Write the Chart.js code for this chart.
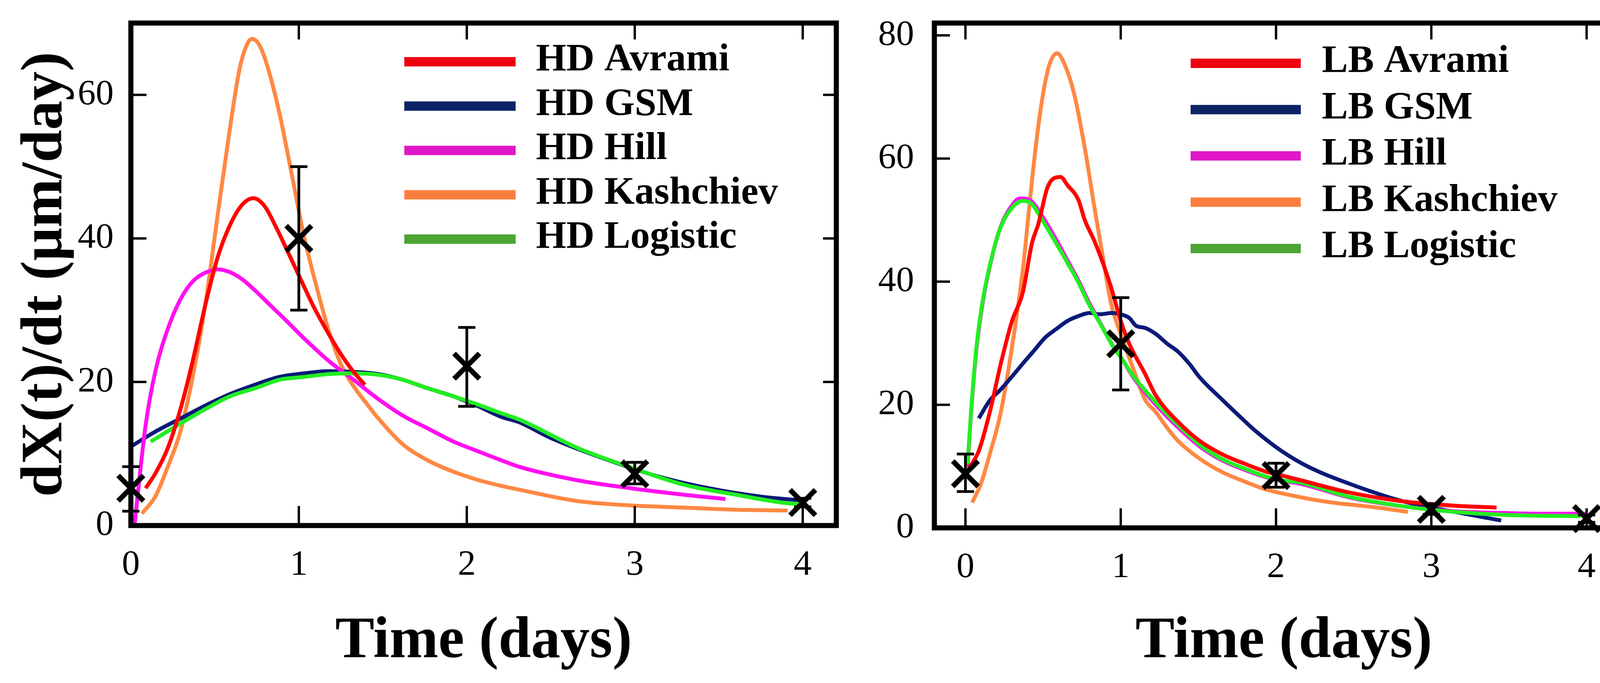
<!DOCTYPE html>
<html>
<head>
<meta charset="utf-8">
<script src="https://cdn.jsdelivr.net/npm/chart.js@4.4.1/dist/chart.umd.min.js"></script>
<style>
  body { margin: 0; background: #fff; width: 4240px; height: 1748px; overflow: hidden; position: relative; }
  canvas { position: absolute; top: 0; }
  #hd-chart { left: 0; }
  #lb-chart { left: 2200px; }
</style>
</head>
<body>
<canvas id="hd-chart" width="2200" height="1748"></canvas>
<canvas id="lb-chart" width="2040" height="1748"></canvas>
<script>
// ---- HD panel (left) ----
const hdLabels = ['HD Avrami', 'HD GSM', 'HD Hill', 'HD Kashchiev', 'HD Logistic'];

const hdAvramiT = [0.088,0.147,0.22,0.295,0.368,0.442,0.516,0.589,0.663,0.73,0.796,0.87,0.943,1.017,1.09,1.18,1.25,1.326,1.393];
const hdAvramiY = [5.2,7.3,10.8,16.2,22.9,30.6,37.3,41.8,44.7,45.6,44.5,41.3,37.7,34.0,30.4,26.6,23.9,21.4,19.6];

const hdGsmT = [0.007,0.147,0.295,0.442,0.589,0.737,0.884,1.03,1.18,1.326,1.474,1.62,1.77,1.92,2.06,2.21,2.31,2.5,2.82,3.13,3.44,3.76,3.99];
const hdGsmY = [11.1,13.1,14.9,16.7,18.3,19.6,20.7,21.2,21.5,21.4,21.1,20.3,19.1,18.0,16.7,15.1,14.4,12.2,9.3,6.9,5.2,4.0,3.5];

const hdHillT = [0.022,0.044,0.088,0.147,0.22,0.295,0.368,0.442,0.516,0.589,0.663,0.737,0.825,0.914,1.03,1.18,1.326,1.474,1.62,1.77,1.92,2.06,2.21,2.31,2.66,2.975,3.29,3.54];
const hdHillY = [0.1,5,14,21.6,27.4,31.5,34.0,35.2,35.7,35.3,34.3,32.8,30.8,28.8,26.1,22.9,20.3,17.6,15.3,13.5,11.7,10.4,9.05,8.2,6.3,5.2,4.3,3.7];

const hdKashT = [0.066,0.147,0.22,0.295,0.368,0.442,0.516,0.589,0.648,0.693,0.722,0.766,0.81,0.884,0.958,1.03,1.105,1.18,1.25,1.326,1.4,1.474,1.62,1.77,1.92,2.06,2.21,2.31,2.66,2.975,3.29,3.6,3.91];
const hdKashY = [1.66,4.1,8.2,13.1,20.7,30.6,43.1,55.2,63.7,67.1,67.8,66.9,64.2,57.5,48.9,40.4,33.3,27.0,22.5,19.4,17.1,14.9,11.3,9.05,7.5,6.4,5.5,5.0,3.4,2.8,2.5,2.2,2.1];

const hdLogT = [0.118,0.295,0.442,0.589,0.737,0.884,1.03,1.18,1.326,1.474,1.62,1.77,1.92,2.06,2.21,2.31,2.66,2.975,3.29,3.6,3.91,3.99];
const hdLogY = [11.7,14.2,16.2,18.0,19.1,20.3,20.7,21.1,21.2,21.0,20.3,19.1,18.0,16.9,15.6,14.8,10.8,8.1,5.7,4.3,3.1,3.0];

const hdDays = [0, 1, 2, 3, 4];
const hdMean = [5.2, 40, 22.2, 7.2, 3.2];
const hdLow  = [2.0, 30, 16.6, 5.8, 2.6];
const hdHigh = [8.2, 50, 27.6, 8.8, 3.8];

// ---- LB panel (right) ----
const lbLabels = ['LB Avrami', 'LB GSM', 'LB Hill', 'LB Kashchiev', 'LB Logistic'];

const lbAvramiT = [0.021,0.086,0.157,0.228,0.3,0.37,0.428,0.47,0.527,0.57,0.613,0.656,0.727,0.77,0.827,0.884,0.94,1.0,1.055,1.155,1.226,1.37,1.51,1.65,1.8,1.94,2.04,2.15,2.48,2.82,3.15,3.42];
const lbAvramiY = [9.6,12.5,18.8,26.7,33.6,38.3,46.2,49.4,55.2,56.8,57.0,55.7,53.3,49.9,46.8,43.1,38.9,33.6,29.9,25.1,21.5,17.2,14.1,12.0,10.4,9.1,8.5,7.8,5.7,4.3,3.6,3.3];

const lbGsmT = [0.086,0.157,0.228,0.3,0.37,0.442,0.513,0.585,0.656,0.727,0.8,0.87,0.94,1.012,1.055,1.1,1.155,1.226,1.3,1.37,1.44,1.51,1.65,1.8,1.87,2.035,2.21,2.48,2.82,3.15,3.45];
const lbGsmY = [17.8,20.7,22.5,24.6,26.7,28.8,30.9,32.3,33.6,34.4,34.9,34.7,34.9,34.6,34.1,32.8,32.5,31.5,29.9,28.6,26.7,24.4,20.9,17.3,15.7,12.5,9.9,7.1,4.3,2.6,1.2];

const lbHillT = [0.014,0.036,0.071,0.114,0.171,0.228,0.3,0.35,0.428,0.485,0.585,0.656,0.727,0.798,0.87,0.94,1.012,1.083,1.226,1.37,1.51,1.65,1.8,1.94,2.04,2.15,2.48,2.82,3.15,3.49,3.75,4.0];
const lbHillY = [9.9,18.5,29.0,37.0,44.0,49.0,52.4,53.5,53.0,51.0,46.8,43.5,40.2,36.5,33.2,30.0,27.3,24.4,20.0,16.3,13.2,11.0,9.4,8.2,7.6,7.2,4.9,3.5,2.7,2.4,2.3,2.3];

const lbKashT = [0.043,0.1,0.157,0.228,0.3,0.37,0.413,0.456,0.5,0.54,0.59,0.64,0.7,0.77,0.827,0.884,0.94,1.0,1.083,1.155,1.226,1.3,1.37,1.51,1.65,1.8,1.94,2.04,2.31,2.65,2.85];
const lbKashY = [4.1,7.2,12.0,18.8,29.4,42.0,52.6,62.6,70.5,75.2,77.1,75.2,70.5,61.5,52.6,44.1,36.2,31.5,25.7,20.9,18.8,16.2,14.1,11.2,9.1,7.5,6.2,5.6,4.3,3.3,2.6];

const lbLogT = [0.014,0.036,0.071,0.114,0.171,0.228,0.3,0.37,0.428,0.485,0.585,0.656,0.727,0.798,0.87,0.94,1.012,1.083,1.226,1.37,1.51,1.65,1.8,1.94,2.04,2.15,2.48,2.82,3.15,3.49,3.96];
const lbLogY = [10.4,18.8,29.4,37.3,44.1,48.9,52.0,53.1,52.6,50.4,46.2,43.1,39.9,36.2,33.1,29.9,27.3,24.6,20.4,16.7,13.5,11.2,9.6,8.3,7.7,7.4,5.0,3.5,2.6,2.1,1.9];

const lbDays = [0, 1, 2, 3, 4];
const lbMean = [8.8, 29.9, 8.5, 3.0, 1.5];
const lbLow  = [5.9, 22.4, 6.6, 2.2, 0.9];
const lbHigh = [12.0, 37.4, 10.5, 3.9, 2.1];

// colours: Avrami, GSM, Hill, Kashchiev, Logistic
const lineColors   = ['#ff0000', '#0b1a78', '#ff10f0', '#ff8844', '#22ee22'];
const legendColors = ['#ee0010', '#0c2466', '#e018c8', '#fa7f3e', '#4ca535'];
// stacking: lower number is drawn on top
const drawOrder    = [1, 4, 3, 5, 2];

const serif = '"Liberation Serif", "Times New Roman", serif';

function zip(t, v) {
    return t.map((x, i) => ({ x: x, y: v[i] }));
}

// error bars, legend, frame and inward ticks
const panelDecor = {
    id: 'panelDecor',
    afterDatasetsDraw(chart, args, o) {
        const ctx = chart.ctx, x = chart.scales.x, y = chart.scales.y;
        ctx.save();
        ctx.strokeStyle = '#000';
        ctx.lineWidth = 7;
        o.errX.forEach((d, i) => {
            const px = x.getPixelForValue(d);
            const lo = y.getPixelForValue(o.errLo[i]);
            const hi = y.getPixelForValue(o.errHi[i]);
            ctx.beginPath();
            ctx.moveTo(px, lo); ctx.lineTo(px, hi);
            ctx.moveTo(px - 22, lo); ctx.lineTo(px + 22, lo);
            ctx.moveTo(px - 22, hi); ctx.lineTo(px + 22, hi);
            ctx.stroke();
        });

        ctx.font = 'bold 100px ' + serif;
        ctx.textBaseline = 'alphabetic';
        ctx.textAlign = 'left';
        o.labels.forEach((lab, i) => {
            const ly = o.legendY + i * o.rowH;
            ctx.fillStyle = legendColors[i];
            ctx.fillRect(o.legendX, ly - 12, o.lineLen, 24);
            ctx.fillStyle = '#000';
            ctx.fillText(lab, o.legendX + o.lineLen + o.textGap, ly + 22);
        });
        ctx.restore();
    },
    afterDraw(chart) {
        const ctx = chart.ctx, x = chart.scales.x, y = chart.scales.y;
        const a = chart.chartArea;
        ctx.save();
        ctx.strokeStyle = '#000';
        ctx.lineWidth = 6;
        ctx.beginPath();
        x.ticks.forEach(t => {
            const px = x.getPixelForValue(t.value);
            ctx.moveTo(px, a.bottom); ctx.lineTo(px, a.bottom - 50);
            ctx.moveTo(px, a.top); ctx.lineTo(px, a.top + 42);
        });
        y.ticks.forEach(t => {
            const py = y.getPixelForValue(t.value);
            ctx.moveTo(a.left, py); ctx.lineTo(a.left + 40, py);
            ctx.moveTo(a.right, py); ctx.lineTo(a.right - 34, py);
        });
        ctx.stroke();
        ctx.lineWidth = 13;
        ctx.strokeRect(a.left, a.top, a.right - a.left, a.bottom - a.top);
        ctx.restore();
    }
};

function curve(t, v, i) {
    return {
        data: zip(t, v),
        borderColor: lineColors[i],
        borderWidth: 10,
        pointRadius: 0,
        fill: false,
        order: drawOrder[i],
        cubicInterpolationMode: 'monotone'
    };
}

// fixed axis boxes, no label overhang padding, so the plot frame lands where the original has it
function fixBox(size, horizontal) {
    return s => {
        if (horizontal) s.height = size; else s.width = size;
        s.paddingTop = 0; s.paddingBottom = 0;
        s.paddingLeft = 0; s.paddingRight = 0;
    };
}

function makePanel(canvas, p) {
    return new Chart(canvas, {
        type: 'line',
        data: {
            datasets: [
                {
                    data: zip(p.days, p.mean),
                    showLine: false,
                    pointStyle: 'crossRot',
                    pointRadius: 46,
                    pointBorderWidth: 13,
                    borderColor: '#000',
                    backgroundColor: '#000',
                    order: 0,
                    clip: false
                },
                curve(p.curves[0][0], p.curves[0][1], 0),
                curve(p.curves[1][0], p.curves[1][1], 1),
                curve(p.curves[2][0], p.curves[2][1], 2),
                curve(p.curves[3][0], p.curves[3][1], 3),
                curve(p.curves[4][0], p.curves[4][1], 4)
            ]
        },
        options: {
            responsive: false,
            devicePixelRatio: 1,
            animation: false,
            layout: { padding: p.padding },
            plugins: {
                legend: { display: false },
                tooltip: { enabled: false },
                panelDecor: {
                    errX: p.days, errLo: p.low, errHi: p.high,
                    labels: p.labels,
                    legendX: p.legendX, legendY: p.legendY, rowH: p.rowH,
                    lineLen: p.lineLen, textGap: p.textGap
                }
            },
            scales: {
                x: {
                    type: 'linear',
                    min: p.xMin, max: p.xMax,
                    afterFit: fixBox(p.xAxisH, true),
                    grid: { display: false, drawTicks: false },
                    border: { display: false },
                    ticks: {
                        stepSize: 1, includeBounds: false, maxRotation: 0,
                        color: '#000', padding: 47,
                        font: { family: serif, size: 92 }
                    },
                    title: {
                        display: true, text: 'Time (days)', color: '#000',
                        font: { family: serif, size: 150, weight: 'bold', lineHeight: 1 },
                        padding: { top: 0, bottom: 30 }
                    }
                },
                y: {
                    type: 'linear',
                    min: 0, max: p.yMax,
                    afterFit: fixBox(p.yAxisW, false),
                    grid: { display: false, drawTicks: false },
                    border: { display: false },
                    ticks: {
                        stepSize: 20, includeBounds: false,
                        color: '#000', padding: p.yTickPad,
                        font: { family: serif, size: 92 }
                    },
                    title: {
                        display: p.yTitle !== '', text: p.yTitle, color: '#000',
                        font: { family: serif, size: 150, weight: 'bold', lineHeight: 1 },
                        padding: { top: 43, bottom: 0 }
                    }
                }
            }
        },
        plugins: [panelDecor]
    });
}

makePanel(document.getElementById('hd-chart'), {
    labels: hdLabels,
    curves: [[hdAvramiT, hdAvramiY], [hdGsmT, hdGsmY], [hdHillT, hdHillY], [hdKashT, hdKashY], [hdLogT, hdLogY]],
    days: hdDays, mean: hdMean, low: hdLow, high: hdHigh,
    xMin: 0, xMax: 4.2, yMax: 70,
    padding: { left: 0, top: 31, right: 49, bottom: 0 },
    yAxisW: 335, xAxisH: 403, yTickPad: 44,
    yTitle: 'dX(t)/dt (\u03bcm/day)',
    legendX: 1035, legendY: 158, rowH: 113.5, lineLen: 285, textGap: 52
});

makePanel(document.getElementById('lb-chart'), {
    labels: lbLabels,
    curves: [[lbAvramiT, lbAvramiY], [lbGsmT, lbGsmY], [lbHillT, lbHillY], [lbKashT, lbKashY], [lbLogT, lbLogY]],
    days: lbDays, mean: lbMean, low: lbLow, high: lbHigh,
    xMin: -0.2, xMax: 4.3, yMax: 82,
    padding: { left: 0, top: 38, right: 38, bottom: 0 },
    yAxisW: 192, xAxisH: 397, yTickPad: 52,
    yTitle: '',
    legendX: 848, legendY: 162, rowH: 118.5, lineLen: 282, textGap: 54
});
</script>
</body>
</html>
